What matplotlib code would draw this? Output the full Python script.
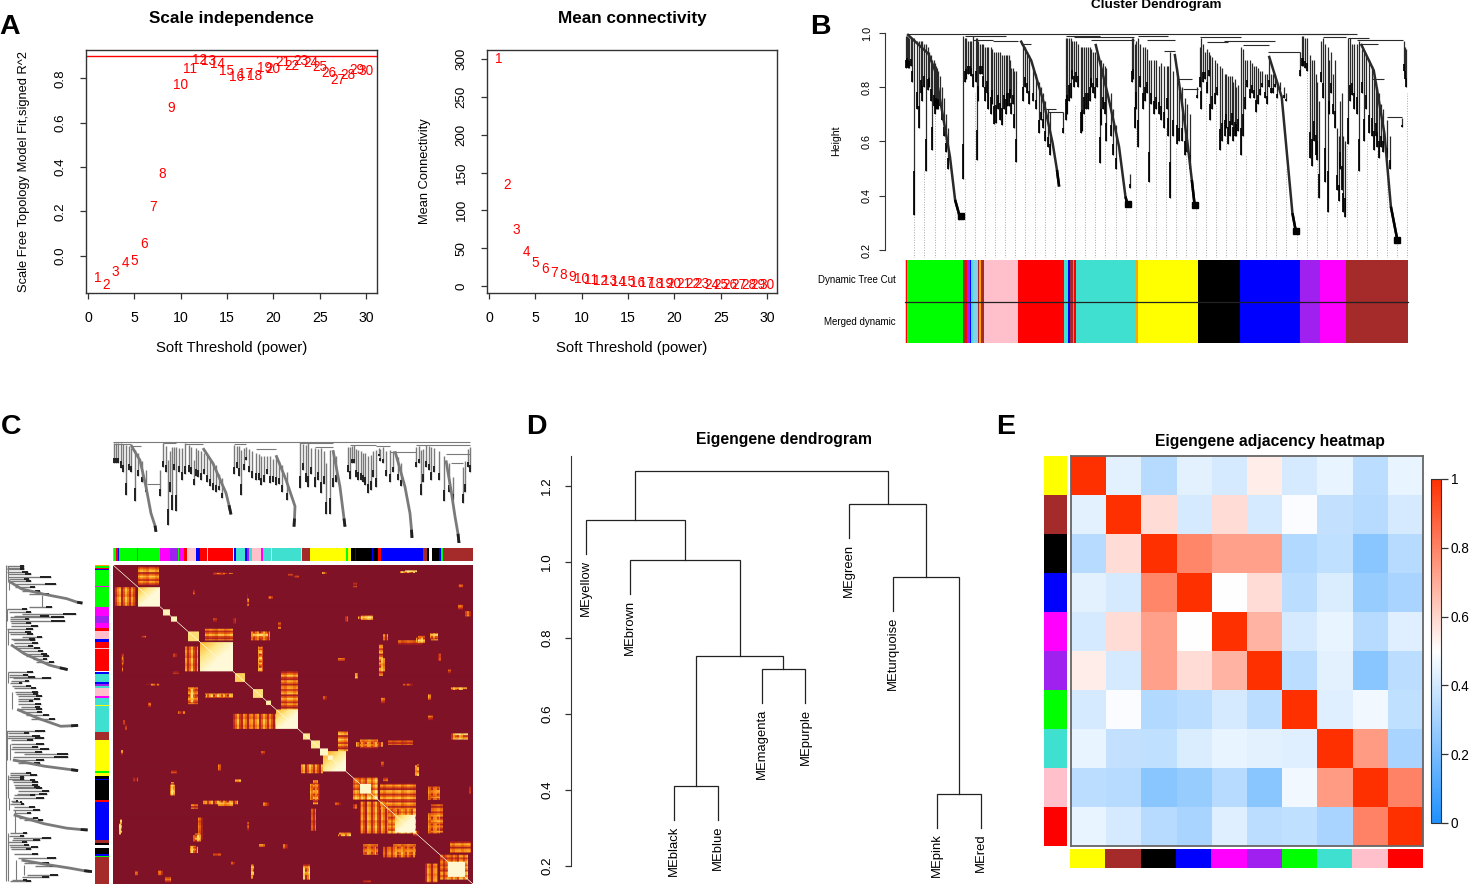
#!/usr/bin/env python3
# WGCNA summary figure, panels A to E
import numpy as np
import matplotlib
matplotlib.use("Agg")
import matplotlib.pyplot as plt
from matplotlib.cm import ScalarMappable
from matplotlib.colors import LinearSegmentedColormap, Normalize

W, H = 1471, 886
plt.rcParams['font.family'] = ['Liberation Sans', 'DejaVu Sans']

# panel A
powers = list(range(1, 31))
sft_r2 = [-0.10, -0.13, -0.072, -0.035, -0.023, 0.053, 0.22, 0.368, 0.668, 0.771,
          0.842, 0.884, 0.878, 0.863, 0.835, 0.805, 0.82, 0.81, 0.848, 0.84,
          0.872, 0.856, 0.877, 0.871, 0.853, 0.826, 0.791, 0.814, 0.836, 0.832]
mean_k = [300, 133, 73.5, 45, 31, 23, 17.6, 14, 11.5, 9.7,
          8, 7, 6, 5.5, 4.8, 4.2, 3.7, 3.3, 3, 2.7,
          2.5, 2.3, 2.1, 1.9, 1.8, 1.7, 1.6, 1.5, 1.4, 1.3]

# panel B, x is leaf position along the tree
b_curves = [
    ([250, 300, 315, 330, 350, 362, 375], [0.996, 0.923, 0.862, 0.727, 0.544, 0.385, 0.311]),
    ([515, 540, 570, 590, 600, 605], [0.972, 0.898, 0.739, 0.593, 0.495, 0.434]),
    ([690, 720, 745, 760, 765], [0.96, 0.764, 0.581, 0.397, 0.366]),
    ([875, 890, 905, 915, 922], [0.923, 0.764, 0.593, 0.458, 0.36]),
    ([1095, 1125, 1140, 1150, 1158], [0.916, 0.764, 0.507, 0.336, 0.269]),
    ([1310, 1340, 1365, 1380, 1395], [0.96, 0.862, 0.629, 0.36, 0.238]),
]
b_squares_x = [375, 765, 922, 1158, 1395]
b_squares_h = [0.325, 0.37, 0.365, 0.269, 0.238]
b_drop_x = [247, 252, 258, 267, 278, 285, 293, 298, 309, 315, 320,
            381, 385, 392, 405, 413, 420, 433, 440, 452, 468, 480, 487, 493, 505, 520, 558, 615,
            620, 628, 640, 655, 663, 672, 684, 700, 715, 770,
            775, 782, 790, 800, 815, 827, 838, 850, 865, 880, 893, 928,
            935, 937, 945, 958, 968, 980, 992, 1000, 1012, 1018, 1030, 1040, 1050, 1065,
            1075, 1090, 1100, 1115, 1168,
            1172, 1180, 1190, 1195, 1208, 1212, 1222, 1232, 1240, 1250, 1258, 1265, 1272,
            1280, 1290, 1305, 1318, 1328, 1340, 1352, 1405, 1410, 1415]
b_drop_top = [0.99, 0.985, 0.98, 0.98, 0.97, 0.97, 0.96, 0.95, 0.90, 0.89, 0.87,
              0.99, 0.98, 0.97, 0.99, 0.98, 0.96, 0.95, 0.95, 0.93, 0.93, 0.92, 0.92, 0.87, 0.86, 0.95, 0.82, 0.71,
              0.98, 0.98, 0.97, 0.95, 0.95, 0.95, 0.93, 0.90, 0.87, 0.48,
              0.98, 0.96, 0.98, 0.95, 0.90, 0.90, 0.88, 0.88, 0.93, 0.87, 0.80, 0.80,
              0.95, 0.98, 0.93, 0.92, 0.90, 0.88, 0.85, 0.84, 0.82, 0.80, 0.95, 0.90, 0.90, 0.88,
              0.86, 0.85, 0.85, 0.82, 0.93,
              0.99, 0.98, 0.92, 0.90, 0.82, 0.75, 0.98, 0.95, 0.93, 0.90, 0.62, 0.78, 0.60,
              0.98, 0.96, 0.97, 0.93, 0.90, 0.85, 0.78, 0.685, 0.97, 0.94]
b_drop_bottom = [0.87, 0.87, 0.88, 0.33, 0.65, 0.75, 0.49, 0.79, 0.57, 0.70, 0.72,
                 0.46, 0.82, 0.85, 0.80, 0.53, 0.85, 0.75, 0.72, 0.665, 0.68, 0.70, 0.73, 0.70, 0.525, 0.75, 0.63, 0.63,
                 0.68, 0.75, 0.80, 0.63, 0.70, 0.72, 0.78, 0.52, 0.60, 0.43,
                 0.82, 0.65, 0.58, 0.72, 0.45, 0.70, 0.70, 0.65, 0.39, 0.59, 0.60, 0.76,
                 0.80, 0.72, 0.83, 0.68, 0.74, 0.57, 0.62, 0.59, 0.60, 0.62, 0.55, 0.72, 0.76, 0.71,
                 0.77, 0.74, 0.78, 0.76, 0.84,
                 0.88, 0.87, 0.54, 0.51, 0.53, 0.39, 0.76, 0.34, 0.78, 0.65, 0.38, 0.42, 0.32,
                 0.59, 0.77, 0.49, 0.60, 0.63, 0.57, 0.54, 0.655, 0.86, 0.80]
# the finer branches, cluster by cluster
b_fine_x = [249, 255, 262, 272, 282, 289, 302, 305, 312, 318, 323, 327, 332, 336, 341, 345,
            388, 396, 400, 410, 416, 425, 428, 436, 445, 448, 457, 462, 472, 476, 484, 490, 497, 500,
            525, 530, 535, 545, 550, 563, 567, 573, 578, 583,
            623, 632, 636, 645, 650, 659, 668, 676, 680, 688, 693, 704, 708, 712, 726, 732, 738,
            778, 785, 795, 805, 810, 820, 832, 844, 856, 860, 870, 885, 898, 903, 910,
            940, 950, 955, 963, 973, 985, 995, 1005, 1008, 1015, 1023, 1035, 1045, 1055, 1060, 1070, 1080, 1085,
            1095, 1105, 1110, 1120, 1130, 1135,
            1175, 1185, 1200, 1204, 1216, 1226, 1236, 1245, 1254, 1262, 1268,
            1285, 1295, 1300, 1312, 1322, 1335, 1345, 1348, 1358, 1362, 1370, 1378, 1412]
b_fine_top = [0.99, 0.98, 0.98, 0.97, 0.97, 0.96, 0.93, 0.92, 0.90, 0.88, 0.86, 0.84, 0.80, 0.76, 0.70, 0.65,
              0.98, 0.97, 0.97, 0.98, 0.97, 0.96, 0.96, 0.95, 0.95, 0.94, 0.93, 0.93, 0.92, 0.92, 0.92, 0.90, 0.87, 0.86,
              0.95, 0.93, 0.92, 0.87, 0.85, 0.80, 0.78, 0.75, 0.72, 0.71,
              0.98, 0.98, 0.97, 0.97, 0.96, 0.95, 0.95, 0.95, 0.94, 0.93, 0.93, 0.90, 0.89, 0.88, 0.78, 0.72, 0.66,
              0.98, 0.97, 0.96, 0.95, 0.94, 0.90, 0.90, 0.89, 0.88, 0.88, 0.86, 0.80, 0.76, 0.74, 0.70,
              0.96, 0.94, 0.93, 0.91, 0.89, 0.87, 0.85, 0.84, 0.84, 0.83, 0.81, 0.94, 0.90, 0.89, 0.88, 0.87, 0.86, 0.85,
              0.91, 0.85, 0.85, 0.82, 0.80, 0.78,
              0.99, 0.98, 0.90, 0.85, 0.97, 0.96, 0.90, 0.85, 0.65, 0.75, 0.62,
              0.98, 0.96, 0.96, 0.94, 0.92, 0.88, 0.82, 0.80, 0.74, 0.72, 0.68, 0.62, 0.95]
b_fine_bottom = [0.88, 0.87, 0.82, 0.72, 0.78, 0.80, 0.80, 0.75, 0.73, 0.72, 0.72, 0.73, 0.68, 0.62, 0.56, 0.50,
                 0.83, 0.85, 0.84, 0.82, 0.75, 0.85, 0.80, 0.78, 0.70, 0.74, 0.67, 0.72, 0.66, 0.72, 0.73, 0.76, 0.74, 0.65,
                 0.80, 0.78, 0.74, 0.75, 0.72, 0.68, 0.65, 0.60, 0.58, 0.55,
                 0.70, 0.76, 0.83, 0.82, 0.80, 0.64, 0.72, 0.75, 0.80, 0.76, 0.80, 0.66, 0.72, 0.70, 0.62, 0.55, 0.50,
                 0.83, 0.72, 0.80, 0.75, 0.78, 0.74, 0.72, 0.68, 0.72, 0.62, 0.62, 0.60, 0.55, 0.56, 0.50,
                 0.82, 0.78, 0.84, 0.72, 0.77, 0.60, 0.65, 0.62, 0.66, 0.62, 0.64, 0.62, 0.80, 0.78, 0.76, 0.74, 0.80, 0.76,
                 0.80, 0.78, 0.80, 0.79, 0.76, 0.75,
                 0.88, 0.86, 0.60, 0.55, 0.82, 0.45, 0.70, 0.70, 0.42, 0.50, 0.34,
                 0.75, 0.72, 0.70, 0.78, 0.72, 0.62, 0.62, 0.58, 0.58, 0.56, 0.54, 0.50, 0.83]
b_hline_x0 = [250, 385, 405, 450, 515, 575, 580, 620, 640, 680, 790, 810, 850, 880, 895,
              935, 950, 990, 1035, 1093, 1175, 1222, 1280, 1300, 1310, 1335, 1370]
b_hline_x1 = [1300, 480, 450, 510, 540, 598, 615, 700, 780, 780, 860, 875, 875, 915, 930,
              1030, 1000, 1110, 1095, 1168, 1280, 1275, 1330, 1408, 1350, 1365, 1405]
b_hline_h = [0.997, 0.99, 0.975, 0.97, 0.96, 0.72, 0.71, 0.99, 0.985, 0.975, 0.99, 0.975, 0.935, 0.83, 0.795,
             0.985, 0.965, 0.97, 0.955, 0.93, 0.997, 0.985, 0.98, 0.975, 0.96, 0.83, 0.69]
b_guide_top = [0.33, 0.49, 0.70, 0.66, 0.34, 0.46, 0.78, 0.72, 0.67, 0.71, 0.53, 0.73, 0.62, 0.70, 0.44,
               0.63, 0.74, 0.70, 0.77, 0.60, 0.62, 0.38, 0.65, 0.45, 0.69, 0.65, 0.58, 0.60, 0.37, 0.83,
               0.74, 0.62, 0.60, 0.55, 0.71, 0.74, 0.76, 0.50, 0.27, 0.87, 0.53, 0.34, 0.38, 0.59, 0.49,
               0.60, 0.57, 0.50, 0.24, 0.78]
b_strip_colors = ['#FFC0CB', '#FF0000', '#00FF00', '#A52A2A', '#FF0000', '#A020F0', '#0000FF',
                  '#40E0D0', '#87CEEB', '#A52A2A', '#FFA500', '#A52A2A', '#FFC0CB', '#FF0000',
                  '#40E0D0', '#0000FF', '#A52A2A', '#00FF00', '#FF0000', '#40E0D0', '#FFA500',
                  '#FFFF00', '#000000', '#0000FF', '#A020F0', '#FF00FF', '#A52A2A']
b_strip_widths = [3, 2, 130, 5, 5, 6, 4, 5, 10, 3, 5, 7, 78, 109, 8, 5, 7, 3, 5, 140, 5,
                  140, 97, 141, 46, 62, 144]

# panel C, x is leaf rank and height runs 0 to 1
c_curves = [
    ([18, 27, 33, 38, 42, 43], [0.96, 0.81, 0.55, 0.29, 0.17, 0.11]),
    ([90, 100, 113, 116, 118], [0.93, 0.78, 0.49, 0.37, 0.28]),
    ([163, 173, 182, 181.5, 181], [0.86, 0.62, 0.36, 0.24, 0.16]),
    ([220, 227, 231, 232], [0.91, 0.55, 0.24, 0.16]),
    ([282, 292, 297, 298.5, 299], [0.90, 0.55, 0.29, 0.13, 0.05]),
    ([333, 338, 342, 345, 346], [0.81, 0.52, 0.26, 0.09, 0.0]),
]
c_drop_x = [1, 5, 13, 22, 47, 50, 55, 59, 63, 72, 81, 85, 91, 100, 106, 121, 128, 133, 143, 148, 157, 163,
            187, 195, 202, 208, 213, 217, 220, 237, 241, 245, 252, 255, 263, 266, 270, 277,
            303, 308, 313, 318, 331, 350, 357,
            3, 8, 10, 16, 18, 25, 29, 33,
            53, 57, 61, 66, 69, 76, 78, 83, 88, 94, 97, 103, 109,
            124, 126, 131, 136, 139, 146, 151, 154, 160, 166, 169, 174,
            190, 193, 198, 205, 211, 223,
            235, 239, 243, 248, 250, 258, 260, 267, 273, 280, 285, 288,
            306, 310, 316, 321, 326, 336, 340, 352, 355]
c_drop_top = [0.98, 0.98, 0.96, 0.91, 0.72, 0.98, 0.81, 0.94, 0.94, 0.98, 0.81, 0.91, 0.88, 0.78, 0.68,
              0.96, 0.91, 0.94, 0.88, 0.85, 0.85, 0.86, 0.99, 0.98, 0.93, 0.93, 0.78, 0.91, 0.91,
              0.94, 0.96, 0.91, 0.88, 0.85, 0.91, 0.93, 0.94, 0.91, 0.94, 0.91, 0.96, 0.94, 0.85, 0.75, 0.94,
              0.98, 0.98, 0.97, 0.95, 0.93, 0.88, 0.80, 0.72,
              0.95, 0.90, 0.94, 0.93, 0.93, 0.96, 0.94, 0.93, 0.90, 0.86, 0.82, 0.76, 0.64,
              0.95, 0.95, 0.93, 0.92, 0.90, 0.87, 0.85, 0.85, 0.82, 0.80, 0.76, 0.70,
              0.97, 0.96, 0.93, 0.92, 0.90, 0.85,
              0.94, 0.95, 0.92, 0.90, 0.88, 0.86, 0.90, 0.92, 0.90, 0.90, 0.84, 0.78,
              0.95, 0.92, 0.95, 0.93, 0.90, 0.78, 0.65, 0.80, 0.92]
c_drop_bottom = [0.78, 0.78, 0.47, 0.41, 0.46, 0.75, 0.18, 0.32, 0.31, 0.68, 0.57, 0.65, 0.68, 0.52, 0.52,
                 0.68, 0.47, 0.81, 0.62, 0.57, 0.59, 0.57, 0.54, 0.55, 0.55, 0.49, 0.28, 0.28, 0.55,
                 0.63, 0.78, 0.62, 0.57, 0.49, 0.55, 0.85, 0.78, 0.60, 0.75, 0.47, 0.75, 0.62, 0.41, 0.39, 0.70,
                 0.78, 0.74, 0.70, 0.72, 0.70, 0.66, 0.60, 0.50,
                 0.70, 0.50, 0.72, 0.70, 0.62, 0.70, 0.68, 0.66, 0.62, 0.60, 0.56, 0.50, 0.44,
                 0.74, 0.66, 0.72, 0.70, 0.64, 0.62, 0.60, 0.68, 0.60, 0.58, 0.50, 0.42,
                 0.72, 0.60, 0.68, 0.62, 0.58, 0.60,
                 0.70, 0.78, 0.65, 0.62, 0.60, 0.52, 0.65, 0.80, 0.66, 0.70, 0.62, 0.56,
                 0.78, 0.60, 0.72, 0.70, 0.62, 0.50, 0.42, 0.50, 0.75]
c_hline_x0 = [0, 1, 18, 50, 72, 121, 143, 187, 202, 237, 263, 277, 303, 333, 338, 34]
c_hline_x1 = [357, 18, 28, 63, 90, 133, 163, 220, 220, 263, 277, 303, 357, 357, 350, 47]
c_hline_h = [0.99, 0.97, 0.95, 0.98, 0.97, 0.97, 0.92, 0.98, 0.94, 0.96, 0.95, 0.89, 0.96, 0.87, 0.78, 0.58]
c_strip_colors = ['#FFA500', '#00FF00', '#FF0000', '#0000FF', '#00FF00', '#FF00FF', '#00FF00', '#FF00FF',
                  '#A020F0', '#00FF00', '#FF00FF', '#FF0000', '#FFC0CB', '#0000FF', '#FF0000', '#FFC0CB',
                  '#FF0000', '#FFFFFF', '#0000FF', '#40E0D0', '#0000FF', '#A020F0', '#40E0D0', '#FFC0CB',
                  '#FF00FF', '#40E0D0', '#FFFF00', '#40E0D0', '#FFFF00', '#A52A2A', '#FFFF00', '#00FF00',
                  '#FFFF00', '#000000', '#0000FF', '#000000', '#0000FF', '#000000', '#FF0000', '#0000FF',
                  '#A52A2A', '#000000', '#FFFFFF', '#000000', '#0000FF', '#00FF00', '#A52A2A']
c_strip_widths = [1, 2, 2, 1, 18, 1, 22, 10, 8, 1, 5, 3, 9, 4, 7, 1, 25, 1, 2, 9, 2, 2, 3, 9, 2, 8, 1, 29,
                  1, 8, 36, 2, 3, 4, 1, 16, 1, 5, 3, 42, 4, 2, 3, 7, 2, 2, 30]

# TOM blocks along the diagonal: start, end, value
tom_modules = [(25, 47, 0.98), (50, 57, 0.9), (58, 64, 0.9), (75, 86, 0.75), (87, 120, 0.95),
               (122, 132, 0.7), (140, 150, 0.75), (153, 158, 0.85), (163, 185, 0.95),
               (190, 197, 0.8), (198, 207, 0.8), (207, 215, 0.95), (215, 220, 0.95), (210, 233, 0.85),
               (240, 265, 0.62), (247, 258, 0.95), (275, 303, 0.62), (282, 302, 0.98),
               (327, 355, 0.55), (335, 352, 0.98)]
# off diagonal patches: col start, col end, row start, row end, value
tom_patches = [(2, 23, 25, 46, 0.5), (72, 85, 92, 120, 0.5), (138, 157, 75, 85, 0.45), (145, 150, 92, 120, 0.45),
               (120, 163, 168, 185, 0.5), (188, 210, 225, 235, 0.5), (247, 275, 267, 303, 0.5),
               (315, 327, 250, 265, 0.45), (315, 327, 280, 303, 0.45), (197, 207, 247, 265, 0.45),
               (312, 325, 337, 358, 0.5), (250, 263, 318, 327, 0.45), (270, 302, 318, 330, 0.45),
               (134, 135, 33, 47, 0.45), (245, 258, 58, 61, 0.6), (287, 302, 7, 9, 0.6), (100, 120, 9, 10, 0.4),
               (209, 214, 8, 10, 0.5), (270, 275, 78, 85, 0.55), (303, 310, 82, 87, 0.6), (317, 322, 77, 83, 0.6),
               (266, 272, 105, 120, 0.55), (338, 350, 138, 141, 0.6), (290, 300, 134, 136, 0.4),
               (38, 46, 134, 136, 0.5), (77, 84, 140, 155, 0.6), (93, 120, 146, 149, 0.55), (6, 8, 292, 304, 0.6),
               (57, 62, 248, 260, 0.6), (80, 88, 305, 312, 0.7), (90, 125, 266, 270, 0.5), (85, 90, 285, 310, 0.4),
               (198, 203, 275, 300, 0.4), (225, 238, 304, 306, 0.6), (138, 140, 338, 354, 0.5),
               (190, 197, 340, 355, 0.6), (302, 304, 226, 238, 0.5), (243, 270, 200, 205, 0.55),
               (338, 350, 190, 197, 0.55), (356, 358, 250, 258, 0.4), (242, 245, 122, 128, 0.5),
               (232, 235, 58, 64, 0.4), (77, 85, 318, 325, 0.6), (352, 358, 52, 58, 0.4), (315, 318, 146, 152, 0.5),
               (120, 123, 60, 66, 0.35), (155, 160, 35, 38, 0.4), (180, 186, 12, 14, 0.35), (60, 64, 100, 104, 0.35),
               (28, 33, 80, 82, 0.35), (8, 11, 100, 112, 0.35), (10, 12, 175, 180, 0.35), (65, 72, 165, 168, 0.4),
               (300, 306, 300, 304, 0.4), (150, 156, 268, 272, 0.4), (105, 108, 225, 232, 0.35),
               (240, 244, 270, 275, 0.35), (325, 328, 100, 108, 0.35), (345, 350, 22, 25, 0.35),
               (210, 214, 148, 152, 0.35), (118, 122, 335, 338, 0.35), (45, 50, 345, 350, 0.4),
               (20, 25, 240, 244, 0.35), (170, 175, 315, 320, 0.35), (222, 228, 268, 271, 0.35)]
tom_stripes = [1.0, 0.5, 0.9, 1.15, 0.3, 0.7, 1.2, 0.85, 0.45, 1.0, 0.6, 0.25, 1.1, 0.95, 0.4,
               0.75, 1.2, 0.55, 0.35, 1.05, 0.8, 0.3, 0.9]

# panel D, merges use leaf index or earlier node name
me_names = ['MEyellow', 'MEbrown', 'MEblack', 'MEblue', 'MEmagenta', 'MEpurple',
            'MEgreen', 'MEturquoise', 'MEpink', 'MEred']
merge_pairs = [((2,), (3,)), ((4,), (5,)), ('n0', 'n1'), ((1,), 'n2'), ((0,), 'n3'),
               ((8,), (9,)), ((7,), 'n5'), ((6,), 'n6'), ('n4', 'n7')]
merge_heights = [0.41, 0.718, 0.7526, 1.005, 1.11, 0.389, 0.96, 1.153, 1.239]
hang = 0.09

# panel E
me_colors = ['#FFFF00', '#A52A2A', '#000000', '#0000FF', '#FF00FF',
             '#A020F0', '#00FF00', '#40E0D0', '#FFC0CB', '#FF0000']
adjacency = [
    [1.00, 0.44, 0.34, 0.44, 0.41, 0.54, 0.41, 0.45, 0.35, 0.45],
    [0.44, 1.00, 0.58, 0.41, 0.58, 0.41, 0.49, 0.37, 0.34, 0.41],
    [0.34, 0.58, 1.00, 0.79, 0.73, 0.73, 0.33, 0.36, 0.24, 0.34],
    [0.44, 0.41, 0.79, 1.00, 0.50, 0.58, 0.35, 0.42, 0.27, 0.31],
    [0.41, 0.58, 0.73, 0.50, 1.00, 0.68, 0.41, 0.45, 0.34, 0.43],
    [0.54, 0.41, 0.73, 0.58, 0.68, 1.00, 0.35, 0.44, 0.24, 0.35],
    [0.41, 0.49, 0.33, 0.35, 0.41, 0.35, 1.00, 0.43, 0.47, 0.36],
    [0.45, 0.37, 0.36, 0.42, 0.45, 0.44, 0.43, 1.00, 0.74, 0.31],
    [0.35, 0.34, 0.24, 0.27, 0.34, 0.24, 0.47, 0.74, 1.00, 0.80],
    [0.45, 0.41, 0.34, 0.31, 0.43, 0.35, 0.36, 0.31, 0.80, 1.00],
]

DARK = '#333333'
fig = plt.figure(figsize=(W / 100, H / 100), dpi=100, facecolor='white')


def px_axes(x0, y0, x1, y1):
    return fig.add_axes([x0 / W, 1 - y1 / H, (x1 - x0) / W, (y1 - y0) / H])


def calibrate(edge0, edge1, p0, v0, p1, v1):
    # data limits for an axis whose edges sit at pixels edge0, edge1
    k = (v1 - v0) / (p1 - p0)
    return v0 + (edge0 - p0) * k, v0 + (edge1 - p0) * k


def fig_text(x, y, s, **kw):
    fig.text(x / W, 1 - y / H, s, ha=kw.pop('ha', 'center'), va=kw.pop('va', 'center'), **kw)


def soft_panel(box, ys, ycal, xcal, yticks, yticklabels, title, ylabel, ylabel_x):
    ax = px_axes(*box)
    ax.set_xlim(calibrate(box[0], box[2], xcal[0], 0, xcal[1], 30))
    ax.set_ylim(calibrate(box[3], box[1], ycal[0], ycal[1], ycal[2], ycal[3]))
    for x, y in zip(powers, ys):
        ax.text(x, y, str(x), color='red', fontsize=9.8, ha='center', va='center')
    ax.set_xticks(range(0, 31, 5))
    ax.set_yticks(yticks)
    ax.set_yticklabels(yticklabels, rotation=90, va='center')
    ax.tick_params(length=4.3, width=0.9, color=DARK, labelsize=9.6, pad=9.5)
    ax.tick_params(axis='x', pad=9, labelsize=10.2)
    for s in ax.spines.values():
        s.set_color(DARK)
        s.set_linewidth(1.0)
    cx = (box[0] + box[2]) / 2
    fig_text(cx, 18, title, fontsize=12.3, fontweight='bold')
    fig_text(cx, 348, 'Soft Threshold (power)', fontsize=10.7)
    fig_text(ylabel_x, (box[1] + box[3]) / 2, ylabel, fontsize=9.3, rotation=90)
    return ax


def draw_tree(ax, curves, drop_x, drop_top, drop_bottom, hx0, hx1, hh, thin, thick, lw_curve, swap=False):
    def vl(x, a, b, **kw):
        (ax.hlines if swap else ax.vlines)(x, a, b, **kw)

    def hl(y, a, b, **kw):
        (ax.vlines if swap else ax.hlines)(y, a, b, **kw)

    hl(hh, hx0, hx1, colors=thin, linewidth=0.8)
    vl(drop_x, drop_bottom, drop_top, colors=thin, linewidth=lw_curve * 0.5)
    tips = [b + (t - b) * 0.25 for t, b in zip(drop_top, drop_bottom)]
    vl(drop_x, drop_bottom, tips, colors=thick, linewidth=lw_curve * 0.7)
    for xs, hs in curves:
        px, py = (hs, xs) if swap else (xs, hs)
        ax.plot(px, py, color=thin, lw=lw_curve, solid_capstyle='butt')
        px, py = (hs[-2:], xs[-2:]) if swap else (xs[-2:], hs[-2:])
        ax.plot(px, py, color=thick, lw=lw_curve, solid_capstyle='butt')


def strip(ax, colors, widths, vertical=False):
    starts = np.cumsum([0] + widths[:-1])
    if vertical:
        ax.bar(np.zeros(len(widths)), widths, width=1, bottom=starts, color=colors, linewidth=0, align='edge')
        ax.set_xlim(0, 1)
        ax.set_ylim(sum(widths), 0)
    else:
        ax.barh(np.zeros(len(widths)), widths, height=1, left=starts, color=colors, linewidth=0, align='edge')
        ax.set_xlim(0, sum(widths))
        ax.set_ylim(0, 1)
    ax.axis('off')


# ---- A
ax_a = soft_panel((86, 50, 377, 293), sft_r2, (255.7, 0.0, 78.3, 0.8), (88, 366),
                  [0, 0.2, 0.4, 0.6, 0.8], ['0.0', '0.2', '0.4', '0.6', '0.8'],
                  'Scale independence', 'Scale Free Topology Model Fit,signed R^2', 24)
ax_a.axhline(0.9, color='red', lw=1.0)
soft_panel((487, 50, 777, 293), mean_k, (286, 0, 59, 300), (489, 767),
           [0, 50, 100, 150, 200, 250, 300], ['0', '50', '100', '150', '200', '250', '300'],
           'Mean connectivity', 'Mean Connectivity', 425)

# ---- B
ax_b = px_axes(905, 33, 1408, 258)
ax_b.set_xlim(245, 1420)
ax_b.set_ylim(calibrate(258, 33, 250, 0.2, 33, 1.0))
b_guide_x = np.linspace(267, 1418, len(b_guide_top))
ax_b.vlines(b_guide_x, ax_b.get_ylim()[0], b_guide_top, colors='#A8A8A8', linewidth=0.7, linestyles=(0, (1, 1.6)))
draw_tree(ax_b, b_curves, b_drop_x + b_fine_x, b_drop_top + b_fine_top, b_drop_bottom + b_fine_bottom,
          b_hline_x0, b_hline_x1, b_hline_h, '#2A2A2A', '#000000', 1.8)
ax_b.plot(b_squares_x, b_squares_h, ls='none', marker='s', ms=4.6, color='black')
for name in ('top', 'right', 'bottom'):
    ax_b.spines[name].set_visible(False)
ax_b.spines['left'].set_position(('outward', 14.4))
ax_b.spines['left'].set_bounds(0.2, 1.0)
ax_b.spines['left'].set_color(DARK)
ax_b.set_xticks([])
ax_b.set_yticks([0.2, 0.4, 0.6, 0.8, 1.0])
ax_b.set_yticklabels(['0.2', '0.4', '0.6', '0.8', '1.0'], rotation=90, va='center')
ax_b.tick_params(length=4.3, width=0.8, color=DARK, labelsize=7.8, pad=5)
ax_b.patch.set_alpha(0)
strip(px_axes(905, 260, 1408, 302), b_strip_colors, b_strip_widths)
strip(px_axes(905, 302, 1408, 343), b_strip_colors, b_strip_widths)
fig.add_artist(plt.Line2D([905 / W, 1408 / W], [1 - 302 / H] * 2, color='#222222', lw=0.9))
fig_text(1156, 5, 'Cluster Dendrogram', fontsize=9.7, fontweight='bold')
fig_text(836, 141, 'Height', fontsize=7.6, rotation=90)
fig_text(896, 280, 'Dynamic Tree Cut', fontsize=7.0, ha='right')
fig_text(896, 322, 'Merged dynamic', fontsize=7.0, ha='right')

# ---- C
ax_ct = px_axes(113, 441, 473, 543)
ax_ct.set_xlim(0, 360)
ax_ct.set_ylim(0, 1)
draw_tree(ax_ct, c_curves, c_drop_x, c_drop_top, c_drop_bottom, c_hline_x0, c_hline_x1, c_hline_h,
          '#7A7A7A', '#202020', 2.0)
ax_ct.axis('off')
ax_cl = px_axes(5, 565, 92, 884)
ax_cl.set_xlim(1, 0)
ax_cl.set_ylim(360, 0)
draw_tree(ax_cl, c_curves, c_drop_x, c_drop_top, c_drop_bottom, c_hline_x0, c_hline_x1, c_hline_h,
          '#7A7A7A', '#202020', 2.0, swap=True)
ax_cl.axis('off')
strip(px_axes(113, 548, 473, 561), c_strip_colors, c_strip_widths)
strip(px_axes(95, 565, 109, 884), c_strip_colors, c_strip_widths, vertical=True)

tom = np.zeros((360, 360))
n_stripes = len(tom_stripes)
for x0, x1, y0, y1, val in tom_patches:
    # broad stripes along one direction, only a soft change along the other
    cols = np.array([tom_stripes[(i // 2) % n_stripes] for i in range(x0, x1)])
    rows = np.array([tom_stripes[(i // 3) % n_stripes] for i in range(y0, y1)])
    cell = np.clip(val * np.outer(0.7 + 0.3 * rows, cols) * 1.1, 0, 0.8)
    tom[y0:y1, x0:x1] = np.maximum(tom[y0:y1, x0:x1], cell)
    tom[x0:x1, y0:y1] = np.maximum(tom[x0:x1, y0:y1], cell.T)
for a, b, val in tom_modules:
    idx = np.arange(a, b)
    frac = (idx - a) / (b - a)
    ramp = 1.0
    if b - a >= 20:
        # the big modules get paler toward their lower right corner
        ramp = 0.62 + 0.38 * (frac[:, None] + frac[None, :])
    cell = np.clip(val * ramp, 0, 1)
    if val < 0.7:
        pattern = np.array([tom_stripes[(i // 2) % n_stripes] for i in idx])
        cell = cell * np.sqrt(np.outer(pattern, pattern))
    tom[a:b, a:b] = np.maximum(tom[a:b, a:b], cell)
np.fill_diagonal(tom, 1)
tom_cmap = LinearSegmentedColormap.from_list(
    'tom', ['#7F1227', '#C0281A', '#EE6A0C', '#FFB52E', '#FFE98A', '#FFF9D8'])
ax_tom = px_axes(113, 565, 473, 884)
ax_tom.imshow(tom, cmap=tom_cmap, vmin=0, vmax=1, aspect='auto', interpolation='bilinear', extent=(0, 360, 360, 0))
ax_tom.axis('off')

# ---- D
ax_d = px_axes(540, 456, 1000, 882)
ax_d.set_xlim(calibrate(540, 1000, 586, 0, 981, 9))
ax_d.set_ylim(calibrate(882, 456, 866, 0.2, 486, 1.2))
node_x = {}
node_h = {}


def resolve(ref, parent_h):
    # returns x and top of a child branch, drawing the hanging leaf if needed
    if isinstance(ref, str):
        return node_x[ref], node_h[ref]
    leaf = ref[0]
    bottom = parent_h - hang
    ax_d.text(leaf, bottom - 0.014, me_names[leaf], rotation=90, ha='center', va='top', fontsize=9.4)
    return leaf, bottom


for i, ((left, right), h) in enumerate(zip(merge_pairs, merge_heights)):
    xa, ha_ = resolve(left, h)
    xb, hb_ = resolve(right, h)
    ax_d.plot([xa, xa, xb, xb], [ha_, h, h, hb_], color='#222222', lw=0.9, solid_joinstyle='miter')
    node_x['n%d' % i] = (xa + xb) / 2
    node_h['n%d' % i] = h
for name in ('top', 'right', 'bottom'):
    ax_d.spines[name].set_visible(False)
ax_d.spines['left'].set_position(('outward', -22.3))
ax_d.spines['left'].set_bounds(0.2, 1.28)
ax_d.spines['left'].set_color(DARK)
ax_d.set_xticks([])
ax_d.set_yticks([0.2, 0.4, 0.6, 0.8, 1.0, 1.2])
ax_d.set_yticklabels(['0.2', '0.4', '0.6', '0.8', '1.0', '1.2'], rotation=90, va='center')
ax_d.tick_params(length=4.3, width=0.9, color=DARK, labelsize=9.6, pad=8.6)
ax_d.patch.set_alpha(0)
fig_text(784, 440, 'Eigengene dendrogram', fontsize=11.3, fontweight='bold')

# ---- E
adj_cmap = LinearSegmentedColormap.from_list('adj', ['#1E90FF', '#FFFFFF', '#FF3000'])
ax_e = px_axes(1071, 456, 1423, 846)
ax_e.imshow(adjacency, cmap=adj_cmap, vmin=0, vmax=1, aspect='auto', interpolation='nearest')
ax_e.set_xticks([])
ax_e.set_yticks([])
for s in ax_e.spines.values():
    s.set_color('#666666')
    s.set_linewidth(1.3)
strip(px_axes(1044, 456, 1067, 846), me_colors, [1] * len(me_colors), vertical=True)
strip(px_axes(1070, 849, 1423, 868), me_colors, [1] * len(me_colors))
cax = px_axes(1431, 479, 1441, 823)
cb = fig.colorbar(ScalarMappable(Normalize(0, 1), adj_cmap), cax=cax)
cb.set_ticks([0, 0.2, 0.4, 0.6, 0.8, 1])
cb.set_ticklabels(['0', '0.2', '0.4', '0.6', '0.8', '1'])
cb.ax.tick_params(length=5, width=0.9, color=DARK, labelsize=9.8, pad=2)
cb.outline.set_edgecolor(DARK)
cb.outline.set_linewidth(0.8)
fig_text(1270, 441, 'Eigengene adjacency heatmap', fontsize=11.3, fontweight='bold')

# panel letters
for letter, x, y in [('A', 10, 27), ('B', 820, 27), ('C', 11, 427), ('D', 536, 427), ('E', 1006, 427)]:
    fig_text(x, y, letter, fontsize=20.5, fontweight='bold')

fig.savefig('out.png', dpi=100)
